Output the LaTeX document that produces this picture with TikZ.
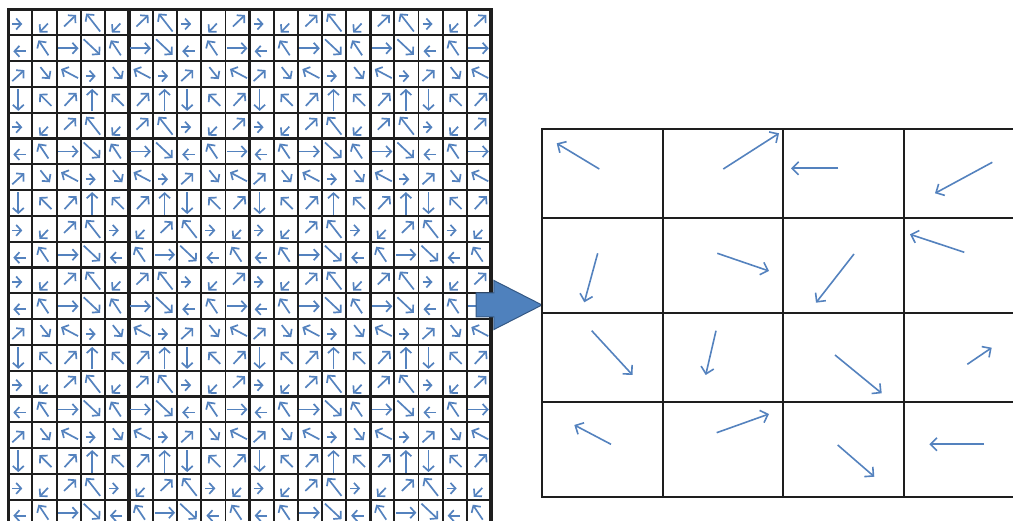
\documentclass[tikz,border=0pt]{standalone}
\usepackage{tikz}
\usepackage{xcolor}
\usetikzlibrary{arrows.meta,shapes.arrows}
\definecolor{gridgray}{RGB}{30,30,30}
\definecolor{hogblue}{RGB}{84,130,190}
\definecolor{poolblue}{RGB}{79,129,189}
\definecolor{pooledge}{RGB}{52,88,132}
\newcommand{\finex}{8.3}
\newcommand{\finey}{9.5}
\newcommand{\finew}{24.13}
\newcommand{\fineh}{25.8}
\tikzset{
  cellline/.style={draw=gridgray, line width=1.9pt, line cap=rect},
  blockline/.style={draw=gridgray, line width=3.2pt, line cap=rect},
  hogarr/.style={draw=hogblue, line width=1.7pt, -{Straight Barb[length=5pt,width=11pt]}},
  binarr/.style={draw=hogblue, line width=1.6pt, -{Straight Barb[length=6.5pt,width=13pt]}},
  blockarrow/.style={single arrow, draw=pooledge, fill=poolblue, line width=1pt,
    minimum height=66pt, inner xsep=0pt, inner ysep=11.5pt, single arrow head extend=12.5pt,
    single arrow tip angle=54, outer sep=0pt},
  pics/ga0/.style={code={\draw[hogarr] (4,14.5) -- (14,14.5);}},
  pics/ga1/.style={code={\draw[hogarr] (15.5,14) -- (7,23);}},
  pics/ga2/.style={code={\draw[hogarr] (7.5,17) -- (19.5,5.5);}},
  pics/ga3/.style={code={\draw[hogarr] (19.5,22) -- (5.5,4);}},
  pics/gb0/.style={code={\draw[hogarr] (17.5,16) -- (5,16);}},
  pics/gb1/.style={code={\draw[hogarr] (16,20) -- (6,5);}},
  pics/gb2/.style={code={\draw[hogarr] (1.5,13) -- (22,13);}},
  pics/gb3/.style={code={\draw[hogarr] (3,4) -- (19.5,19.5);}},
  pics/gc0/.style={code={\draw[hogarr] (4,20) -- (16,9);}},
  pics/gc1/.style={code={\draw[hogarr] (8,6) -- (17.5,18);}},
  pics/gc2/.style={code={\draw[hogarr] (21.5,17) -- (4.5,8);}},
  pics/gc3/.style={code={\draw[hogarr] (5,15) -- (15,15);}},
  pics/gd0/.style={code={\draw[hogarr] (10,2) -- (10,24);}},
  pics/gd1/.style={code={\draw[hogarr] (19,19) -- (7,7);}},
  pics/gd2/.style={code={\draw[hogarr] (8,19) -- (20,6);}},
  pics/gd3/.style={code={\draw[hogarr] (11.5,24.5) -- (11.5,2);}},
}

\begin{document}
\begin{tikzpicture}[x=1pt, y=-1pt]
      \useasboundingbox (0,0) rectangle (1013,521);
      \clip (0,0) rectangle (1013,521);
      \foreach \i in {0,...,20} {
        \draw[cellline] ({\finex+\i*\finew},\finey) -- ({\finex+\i*\finew},{\finey+20*\fineh});
        \draw[cellline] (\finex,{\finey+\i*\fineh}) -- ({\finex+20*\finew},{\finey+\i*\fineh});
      }
      \foreach \i in {0,5,...,20} {
        \draw[blockline] ({\finex+\i*\finew},\finey) -- ({\finex+\i*\finew},{\finey+20*\fineh});
        \draw[blockline] (\finex,{\finey+\i*\fineh}) -- ({\finex+20*\finew},{\finey+\i*\fineh});
      }
      \foreach \fr/\codes in {
          0/{a0,a1,a2,a3,a1,a2,a3,a0,a1,a2},
          1/{b0,b1,b2,b3,b1,b2,b3,b0,b1,b2},
          2/{c0,c1,c2,c3,c1,c2,c3,c0,c1,c2},
          3/{d0,d1,d2,d3,d1,d2,d3,d0,d1,d2},
          4/{a0,a1,a2,a3,a1,a2,a3,a0,a1,a2},
          5/{b0,b1,b2,b3,b1,b2,b3,b0,b1,b2},
          6/{c0,c1,c2,c3,c1,c2,c3,c0,c1,c2},
          7/{d0,d1,d2,d3,d1,d2,d3,d0,d1,d2},
          8/{a0,a1,a2,a3,a0,a1,a2,a3,a0,a1},
          9/{b0,b1,b2,b3,b0,b1,b2,b3,b0,b1}}
        \foreach \g [count=\fc from 0] in \codes
          \foreach \dr/\dc in {0/0,0/10,10/0,10/10}
            \pic at ({\finex+(\fc+\dc)*\finew},{\finey+(\fr+\dr)*\fineh}) {g\g};
      \coordinate (coarsewest) at (542,305);
      \node[blockarrow, anchor=tip] (pool) at (coarsewest) {};
      \foreach \x in {542,662.7,783.3,904.3,1025}
        \draw[cellline] (\x,129) -- (\x,496.7);
      \foreach \y in {129,218.3,313.3,402.3,496.7}
        \draw[cellline] (542,\y) -- (1025,\y);
      \foreach \ax/\ay/\bx/\by in {
          599.3/169/556.7/143.3, 723.3/169/779/133.3, 838.3/168.3/791/168.3, 992.3/162.3/935/193.3,
          597.7/253.3/584.3/302.3, 717.3/253.3/769/271, 854/254/816/302.7, 964.3/252.3/910/234.3,
          591.7/330.7/632.5/375, 716/330.7/705.7/375, 835/355/881.7/393.3, 967.3/364.3/991.7/347.7,
          611/444.3/574.3/425, 716.7/432.7/769/414, 837.7/445/874.3/476.7, 984/444.3/929.3/444.3}
        \draw[binarr] (\ax,\ay) -- (\bx,\by);
\end{tikzpicture}
\end{document}
